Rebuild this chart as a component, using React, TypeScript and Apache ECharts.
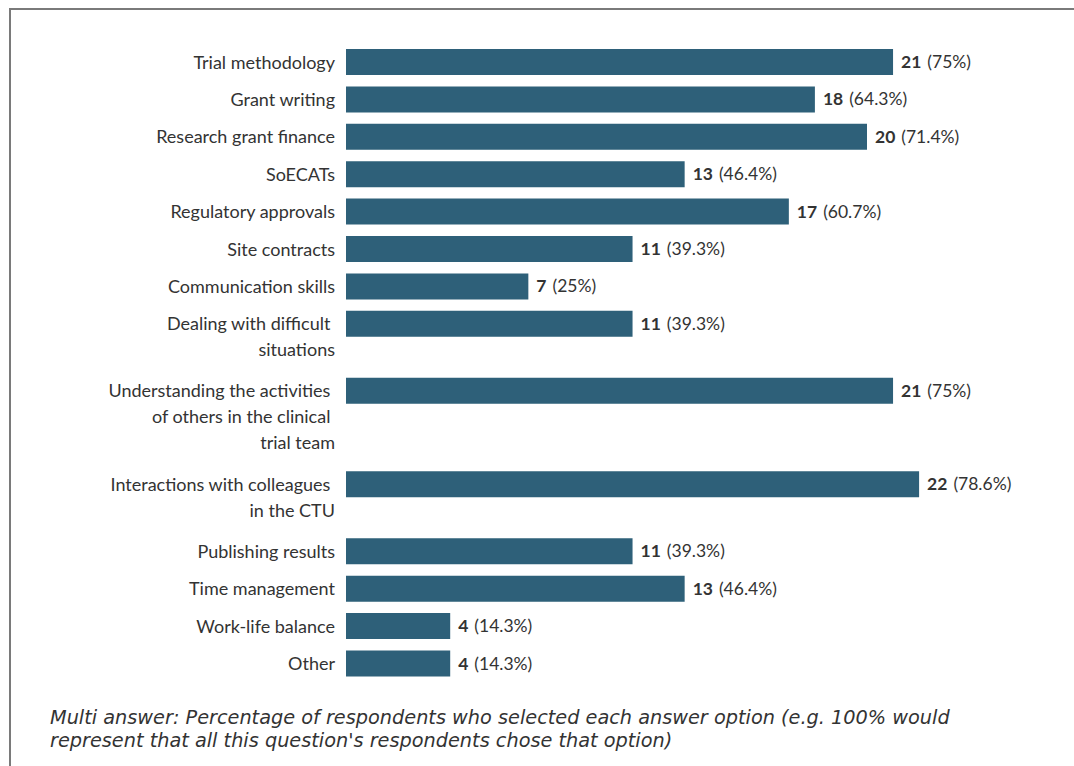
import React, { useEffect, useRef } from "react";
import * as echarts from "echarts";

const categories = [
  "Trial methodology",
  "Grant writing",
  "Research grant finance",
  "SoECATs",
  "Regulatory approvals",
  "Site contracts",
  "Communication skills",
  "Dealing with difficult \nsituations",
  "Understanding the activities \nof others in the clinical \ntrial team",
  "Interactions with colleagues \nin the CTU",
  "Publishing results",
  "Time management",
  "Work-life balance",
  "Other",
];
const counts = [21, 18, 20, 13, 17, 11, 7, 11, 21, 22, 11, 13, 4, 4];
const percents = ["75%", "64.3%", "71.4%", "46.4%", "60.7%", "39.3%", "25%", "39.3%", "75%", "78.6%", "39.3%", "46.4%", "14.3%", "14.3%"];
const footnote =
  "Multi answer: Percentage of respondents who selected each answer option (e.g. 100% would\nrepresent that all this question's respondents chose that option)";

export default function App() {
  const ref = useRef<HTMLDivElement>(null);
  useEffect(() => {
    if (!ref.current) return;
    const chart = echarts.init(ref.current, null, { renderer: "svg" });

    const rowPx = 37.4;
    const lineH = 26.5;
    // row slots: taller rows for multi-line labels
    const slots = categories.map((c) => {
      const n = c.split("\n").length;
      return n === 1 ? 1 : (lineH * n + 14) / rowPx;
    });
    let acc = 0;
    const data = counts.map((v, i) => {
      const center = acc + 0.5;
      acc += slots[i];
      return [v, center, i];
    });
    const total = acc;

    chart.setOption({
      animation: false,
      grid: { left: 346, top: 43.3, width: 26 * 26.05, height: total * rowPx },
      xAxis: { type: "value", min: 0, max: 26, show: false },
      yAxis: { type: "value", min: 0, max: total, inverse: true, show: false },
      graphic: [
        {
          type: "rect",
          shape: { x: 10, y: 9, width: 1200, height: 900 },
          style: { fill: "none", stroke: "#7a7a7a", lineWidth: 2 },
          silent: true,
        },
        {
          type: "text",
          left: 50,
          top: 706,
          style: {
            text: footnote,
            font: "italic 19.3px 'DejaVu Sans'",
            fill: "#333333",
            lineHeight: 23,
          },
        },
      ],
      series: [
        {
          type: "custom",
          data,
          renderItem: (params: any, api: any) => {
            const v = api.value(0);
            const c = api.value(1);
            const i = api.value(2);
            const p0 = api.coord([0, c]);
            const p1 = api.coord([v, c]);
            const h = 26;
            return {
              type: "group",
              children: [
                {
                  type: "rect",
                  shape: { x: p0[0], y: p0[1] - h / 2, width: p1[0] - p0[0], height: h },
                  style: { fill: "#2e6079" },
                },
                {
                  type: "text",
                  x: p0[0] - 11,
                  y: p0[1] - 13.5,
                  style: {
                    text: categories[i],
                    align: "right",
                    verticalAlign: "top",
                    font: "18px Lato",
                    lineHeight: 26,
                    fill: "#333333",
                  },
                },
                {
                  type: "text",
                  x: p1[0] + 8,
                  y: p1[1] - 0.5,
                  style: {
                    text: `{b|${counts[i]}}{n|(${percents[i]})}`,
                    align: "left",
                    verticalAlign: "middle",
                    rich: {
                      b: { font: "bold 17.5px Lato", fill: "#333333", padding: [0, 6, 0, 0] },
                      n: { font: "17.5px Lato", fill: "#333333" },
                    },
                  },
                },
              ],
            };
          },
        },
      ],
    });
    return () => chart.dispose();
  }, []);
  return (
    <div
      ref={ref}
      style={{ position: "fixed", left: 0, top: 0, width: 1074, height: 766, background: "#ffffff" }}
    />
  );
}
